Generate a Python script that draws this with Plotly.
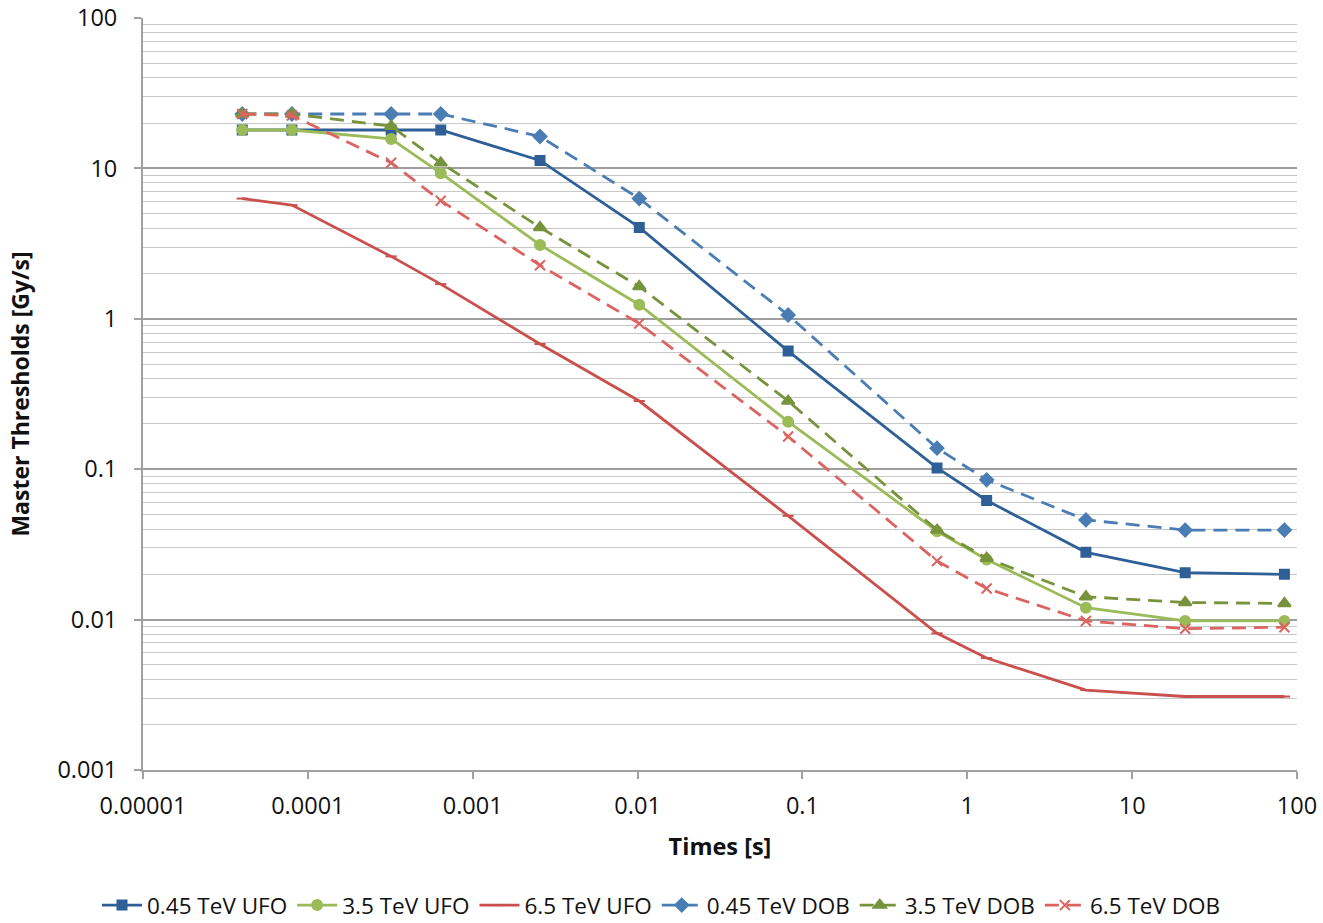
import plotly.graph_objects as go

# Running-sum integration times [s]
times = [4e-5, 8e-5, 3.2e-4, 6.4e-4, 2.56e-3, 1.024e-2, 8.192e-2,
         0.65536, 1.31072, 5.24288, 20.97152, 83.88608]

ufo_045 = [18.0, 18.0, 18.0, 18.0, 11.3, 4.05, 0.61, 0.102, 0.062, 0.028, 0.0205, 0.0200]
ufo_35 = [18.0, 18.0, 15.7, 9.3, 3.1, 1.24, 0.207, 0.0387, 0.0251, 0.0120, 0.0098, 0.0098]
ufo_65 = [6.3, 5.7, 2.6, 1.7, 0.68, 0.284, 0.049, 0.0081, 0.00555, 0.0034, 0.00308, 0.00308]
dob_045 = [23.0, 23.0, 23.0, 23.0, 16.3, 6.3, 1.06, 0.138, 0.085, 0.046, 0.0394, 0.0394]
dob_35 = [23.0, 23.0, 19.1, 10.9, 4.05, 1.64, 0.284, 0.0394, 0.0256, 0.0142, 0.0130, 0.0128]
dob_65 = [23.0, 22.5, 10.9, 6.1, 2.27, 0.93, 0.165, 0.0245, 0.0161, 0.0098, 0.0087, 0.0089]

series = [
    ("0.45 TeV UFO", ufo_045, "#2E5F97", "solid", "square", 9),
    ("3.5 TeV UFO", ufo_35, "#9BBB59", "solid", "circle", 10),
    ("6.5 TeV UFO", ufo_65, "#C9504D", "solid", "line-ew", 8),
    ("0.45 TeV DOB", dob_045, "#4A7DB4", "14px,8px", "diamond", 10),
    ("3.5 TeV DOB", dob_35, "#77933C", "14px,8px", "triangle-up", 11),
    ("6.5 TeV DOB", dob_65, "#DB6461", "14px,8px", "x-thin-open", 10),
]

x_ticks = [1e-5, 1e-4, 1e-3, 1e-2, 1e-1, 1, 10, 100]
x_ticktext = ["0.00001", "0.0001", "0.001", "0.01", "0.1", "1", "10", "100"]
y_ticks = [1e-3, 1e-2, 1e-1, 1, 10, 100]
y_ticktext = ["0.001", "0.01", "0.1", "1", "10", "100"]

fig = go.Figure()
for name, vals, color, dash, symbol, size in series:
    fig.add_trace(go.Scatter(
        x=times, y=vals, name=name, mode="lines+markers",
        line=dict(color=color, width=2.8, dash=dash),
        marker=dict(symbol=symbol, size=size, color=color,
                    line=dict(color=color, width=2)),
    ))

font = "'Open Sans', sans-serif"
fig.update_layout(
    width=1323, height=923,
    margin=dict(l=143, r=26, t=18, b=153, autoexpand=False),
    plot_bgcolor="white", paper_bgcolor="white",
    font=dict(family=font, size=23.5, color="#111111"),
    legend=dict(orientation="h", xref="container", yref="container",
                x=0.5, xanchor="center", y=0.019, yanchor="middle",
                font=dict(size=22.5), itemwidth=40, tracegroupgap=0),
    xaxis=dict(
        type="log", range=[-5, 2], tickvals=x_ticks, ticktext=x_ticktext,
        showgrid=False, showline=True, linecolor="#A0A0A0", linewidth=2,
        ticks="outside", ticklen=7, tickcolor="#A0A0A0", tickwidth=2,
        ticklabelstandoff=7, zeroline=False, automargin=False,
        ticklabeloverflow="allow",
        tickfont=dict(size=23.5),
        title=dict(text="<b>Times [s]</b>", font=dict(size=23.5), standoff=18),
    ),
    yaxis=dict(
        type="log", range=[-3, 2], tickvals=y_ticks, ticktext=y_ticktext,
        showgrid=True, gridcolor="#9E9E9E", gridwidth=1.5,
        showline=True, linecolor="#A0A0A0", linewidth=2,
        ticks="outside", ticklen=7, tickcolor="#A0A0A0", tickwidth=2,
        ticklabelstandoff=12, automargin=False,
        ticklabeloverflow="allow",
        tickfont=dict(size=23.5),
        minor=dict(showgrid=True, gridcolor="#C8C8C8", gridwidth=1.2,
                   dtick="D1", ticks=""),
        zeroline=False,
        title=dict(text="<b>Master Thresholds [Gy/s]</b>", font=dict(size=23),
                   standoff=21),
    ),
)

fig.write_html("out.html")
